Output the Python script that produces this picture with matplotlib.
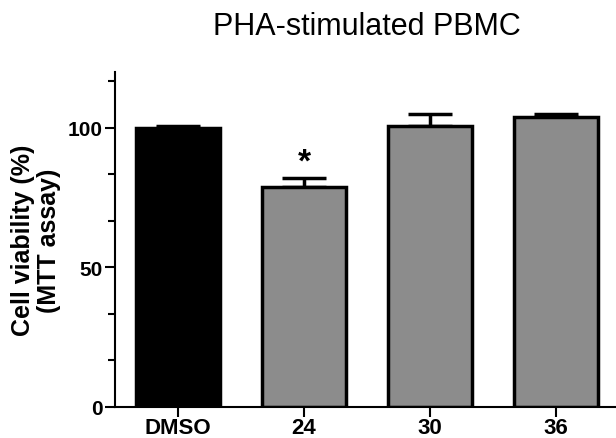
import matplotlib
matplotlib.use("Agg")
import matplotlib.pyplot as plt
from matplotlib.ticker import MultipleLocator

plt.rcParams['font.family'] = ['Liberation Sans', 'DejaVu Sans']

categories = ["DMSO", "24", "30", "36"]
values = [100.0, 78.7, 100.5, 104.0]
errors = [0.6, 3.3, 4.5, 0.8]
colors = ["#000000", "#8c8c8c", "#8c8c8c", "#8c8c8c"]
star_labels = ["", "*", "", ""]

fig = plt.figure(figsize=(6.16, 4.39), dpi=100)
ax = fig.add_axes([115/616, 1-408/439, (619-115)/616, (408-73)/439])

x = list(range(len(categories)))
ax.bar(x, values, width=0.67, color=colors, edgecolor="black", linewidth=2.5, zorder=2)
ax.errorbar(x, values, yerr=[[0]*len(errors), errors], fmt="none", ecolor="black",
            elinewidth=2.5, capsize=16, capthick=2.5, zorder=1)
for xi, v, e, s in zip(x, values, errors, star_labels):
    if s:
        ax.text(xi, v + e + 0.3, s, ha="center", va="bottom", fontsize=24, fontweight="bold")

ax.set_xlim(-0.5, 3.5)
ax.set_ylim(0, 120)
ax.set_xticks(x)
ax.set_xticklabels(categories, fontsize=16, fontweight="bold")
ax.set_yticks([0, 50, 100])
ax.set_yticklabels(["0", "50", "100"], fontsize=15, fontweight="bold")
ax.yaxis.set_minor_locator(MultipleLocator(50/3))
ax.tick_params(axis="y", which="major", length=7, width=1.5, pad=2)
ax.tick_params(axis="y", which="minor", length=5, width=1.5)
ax.tick_params(axis="x", which="major", length=7, width=1.5, pad=0)
for side in ["top", "right"]:
    ax.spines[side].set_visible(False)
for side in ["left", "bottom"]:
    ax.spines[side].set_linewidth(1.5)

ax.set_ylabel("Cell viability (%)\n(MTT assay)", fontsize=18, fontweight="bold", labelpad=5, linespacing=1.1)
fig.text((115+619)/2/616, 1-27/439, "PHA-stimulated PBMC", ha="center", va="center", fontsize=22)

fig.savefig("out.png", dpi=100)
